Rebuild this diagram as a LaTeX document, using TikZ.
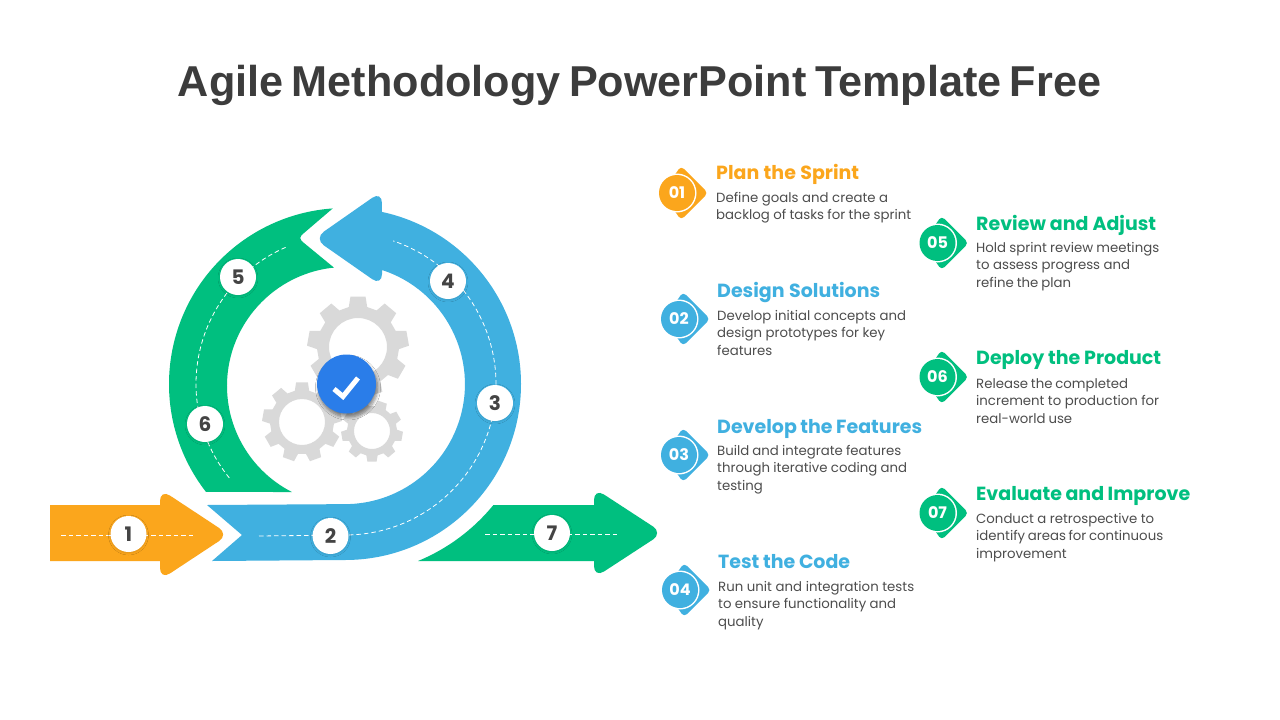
\documentclass[tikz,border=0pt]{standalone}
\usepackage{fontspec}
\setmainfont{Poppins}
\newfontfamily\titlefont{Liberation Sans}
\usetikzlibrary{calc,shadows.blur}
\definecolor{cgreen}{HTML}{00BF7F}
\definecolor{cblue}{HTML}{40B0E0}
\definecolor{corange}{HTML}{FBA61C}
\definecolor{ctext}{HTML}{444444}
\definecolor{cbody}{HTML}{4D4D4D}
\definecolor{ctitle}{HTML}{3C3C3C}
\definecolor{cgear}{HTML}{D9D9D9}
\definecolor{ccheck}{HTML}{2A7DE9}
\tikzset{
  numdot/.style={circle,fill=white,minimum size=36pt,inner sep=0pt,font=\bfseries\fontsize{20}{20}\selectfont,text=ctext,blur shadow={shadow xshift=0pt,shadow yshift=-1pt,shadow blur steps=5,shadow blur radius=2pt,shadow opacity=12}},
  guide/.style={draw=white,line width=.8pt,dash pattern=on 4.5pt off 3pt},
  head/.style={anchor=base west,inner sep=0pt,font=\bfseries\fontsize{19}{19}\selectfont},
  body/.style={anchor=north west,inner sep=0pt,align=left,text=cbody,font=\fontsize{13.3}{17.6}\selectfont},
  badgedot/.style={circle,minimum size=36pt,inner sep=0pt,text=white,font=\bfseries\fontsize{16}{16}\selectfont},
}
\newcommand{\fitw}[2]{\makebox[#1pt][s]{#2}}
% #1 x, #2 y, #3 colour, #4 number, #5 name
\newcommand{\badge}[5]{
  \fill[#3,rounded corners=4pt] ($(#1,#2)+(4,-27)$) -- ($(#1,#2)+(31,0)$) -- ($(#1,#2)+(4,27)$) -- ($(#1,#2)+(-15,0)$) -- cycle;
  \fill[white] (#1,#2) circle[radius=19.5];
  \node[badgedot,fill=#3] (#5) at (#1,#2) {#4};
}
% cx cy Router Rroot rhole startangle
\newcommand{\gearfill}[6]{
  \fill[cgear,even odd rule]
   ($(#1,#2)+(#6-8.5:#3)$)
   \foreach \k in {0,...,8} {
     -- ($(#1,#2)+(#6+\k*40-8.5:#3)$)
     -- ($(#1,#2)+(#6+\k*40+8.5:#3)$)
     -- ($(#1,#2)+(#6+\k*40+13:#4)$)
     -- ($(#1,#2)+(#6+\k*40+27:#4)$)
   } -- cycle
   (#1,#2) circle[radius=#5];
}
\begin{document}
\begin{tikzpicture}[x=1pt,y=-1pt]
\useasboundingbox (0,0) rectangle (1280,720);
\fill[white] (0,0) rectangle (1280,720);
\coordinate (C) at (345,384);
\coordinate (Ci) at (346,386);
\node[anchor=base,inner sep=0pt,text=ctitle] (title) at (639.5,96.5) {\titlefont\bfseries\fontsize{43.2}{43.2}\selectfont\spaceskip=8.4pt Agile Methodology PowerPoint Template Free};

% green arc
\fill[cgreen] ($(C)+(142.2:176)$) arc[start angle=142.2,end angle=266,radius=176]
  -- (304,233) .. controls (299,237) and (299,239) .. (304,243)
  -- ($(Ci)+(264.2:119)$) arc[start angle=264.2,end angle=117,radius=119] -- cycle;
% blue arc
\fill[cblue] (207,505) -- (242,535) -- (212,561) -- (345,560)
  arc[start angle=90,end angle=-77.9,radius=176]
  [rounded corners=12pt] -- (382,191) -- (314,238.5) -- (382,286) [sharp corners] -- (382,270)
  arc[start angle=-72,end angle=90,radius=120] -- cycle;
% orange arrow
\fill[corange] (50,505) -- (160,505) [rounded corners=12pt] -- (160,489) -- (229,534.5) -- (160,580) [sharp corners] -- (160,561) -- (50,561) -- cycle;
% green arrow
\fill[cgreen] (418,561) arc[start angle=67.6,end angle=39.3,radius=191.5] -- (594,505)
  [rounded corners=12pt] -- (594,488) -- (663,533) -- (594,578) [sharp corners] -- (594,561) -- cycle;

% guides
\coordinate (g1a) at (61,535); \coordinate (g1b) at (196,535);
\coordinate (g2a) at (259,536); \coordinate (g2b) at (345,535);
\coordinate (g7a) at (485,534); \coordinate (g7b) at (620,534);
\draw[guide] (g1a) -- (g1b);
\draw[guide] (g2a) -- (g2b) arc[start angle=90,end angle=-71.4,radius=151];
\draw[guide] (g7a) -- (g7b);
\draw[guide] ($(C)+(246.5:149)$) arc[start angle=246.5,end angle=140,radius=149];

% gears
\gearfill{358}{347}{51}{41}{29}{-90}
\gearfill{302}{422}{40}{32}{23}{-90}
\gearfill{372}{431}{31}{25}{18}{90}
\node[circle,fill=ccheck,minimum size=59pt,inner sep=0pt,blur shadow={shadow xshift=1.5pt,shadow yshift=-3.5pt,shadow blur steps=6,shadow blur radius=3pt,shadow opacity=45}] (check) at (346.5,384) {};
\draw[white,line width=5pt] (334,389) -- (343,396.5) -- (358,378);

% number dots
\node[numdot] (n1) at (128.5,534) {1};
\node[numdot] (n2) at (330.5,536) {2};
\node[numdot] (n3) at (495,403) {3};
\node[numdot] (n4) at (448,281) {4};
\node[numdot] (n5) at (238,277) {5};
\node[numdot] (n6) at (205,424) {6};
\node[numdot] (n7) at (552,533) {7};

% items
\badge{677}{193}{corange}{01}{b1}
\badge{679}{319}{cblue}{02}{b2}
\badge{679}{455}{cblue}{03}{b3}
\badge{680}{590}{cblue}{04}{b4}
\badge{937.5}{243}{cgreen}{05}{b5}
\badge{937.5}{377}{cgreen}{06}{b6}
\badge{937.5}{513}{cgreen}{07}{b7}

\node[head,text=corange] (h1) at (716,179) {\fitw{143}{Plan the Sprint}};
\node[head,text=cblue] (h2) at (717,297) {\fitw{163}{Design Solutions}};
\node[head,text=cblue] (h3) at (717,433) {\fitw{205}{Develop the Features}};
\node[head,text=cblue] (h4) at (718,568) {\fitw{132}{Test the Code}};
\node[head,text=cgreen] (h5) at (976,230) {\fitw{180}{Review and Adjust}};
\node[head,text=cgreen] (h6) at (976,364) {\fitw{185}{Deploy the Product}};
\node[head,text=cgreen] (h7) at (976,500) {\fitw{214}{Evaluate and Improve}};

\node[body] (t1) at (716,192) {\fitw{172}{Define goals and create a}\\\fitw{195}{backlog of tasks for the sprint}};
\node[body] (t2) at (717,310) {\fitw{189}{Develop initial concepts and}\\\fitw{168}{design prototypes for key}\\features};
\node[body] (t3) at (717,445) {\fitw{184}{Build and integrate features}\\\fitw{190}{through iterative coding and}\\testing};
\node[body] (t4) at (718,581) {\fitw{196}{Run unit and integration tests}\\\fitw{178}{to ensure functionality and}\\quality};
\node[body] (t5) at (976,242) {\fitw{183}{Hold sprint review meetings}\\\fitw{154}{to assess progress and}\\\fitw{95}{refine the plan}};
\node[body] (t6) at (976,378) {\fitw{152}{Release the completed}\\\fitw{183}{increment to production for}\\\fitw{96}{real-world use}};
\node[body] (t7) at (976,513) {\fitw{178}{Conduct a retrospective to}\\\fitw{187}{identify areas for continuous}\\improvement};
\end{tikzpicture}
\end{document}
